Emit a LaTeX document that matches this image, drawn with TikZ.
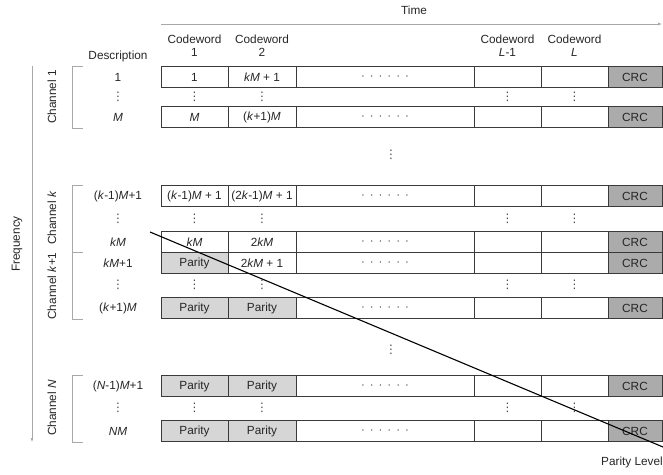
\documentclass[tikz,border=0pt]{standalone}
\usepackage{fontspec}
\setmainfont{Liberation Sans}
\newfontfamily\cwsym{DejaVu Sans}
\usetikzlibrary{arrows.meta,positioning}
\definecolor{cwLine}{HTML}{3A3A3A}
\definecolor{cwGrid}{HTML}{A8A8A8}
\definecolor{cwParity}{HTML}{D6D6D6}
\definecolor{cwCrc}{HTML}{ABABAB}
\newcommand{\cwfont}{\fontsize{11.8}{14}\selectfont}
\newcommand{\hdotsrow}{$\cdot$\hspace{5.5pt}$\cdot$\hspace{5.5pt}$\cdot$\hspace{5.5pt}$\cdot$\hspace{5.5pt}$\cdot$\hspace{5.5pt}$\cdot$}
\newcommand{\cwvdots}{{\cwsym ⋮}}
% one row of codeword cells: name, y, style 1, text 1, style 2, text 2
\newcommand{\coderow}[6]{%
  \node[cell,#3,minimum width=67pt] (#1a) at (194.5,#2) {#4};
  \node[cell,#5,minimum width=68pt,right=0pt of #1a] (#1b) {#6};
  \node[cell,minimum width=178pt,right=0pt of #1b] (#1c) {\hdotsrow};
  \node[cell,minimum width=67pt,right=0pt of #1c] (#1d) {};
  \node[cell,minimum width=67pt,right=0pt of #1d] (#1e) {};
  \node[cell,crc,minimum width=54pt,right=0pt of #1e] (#1f) {CRC};}
% vertical dots under the codeword columns
\newcommand{\dotsline}[2]{%
  \node[vd] (#1x) at (118,#2) {\cwvdots};
  \node[vd] (#1a) at (194.5,#2) {\cwvdots};
  \node[vd] (#1b) at (262,#2) {\cwvdots};
  \node[vd] (#1d) at (507.5,#2) {\cwvdots};
  \node[vd] (#1e) at (574.5,#2) {\cwvdots};}

\begin{document}
\begin{tikzpicture}[x=1pt,y=-1pt,font=\cwfont,
    cell/.style={draw=cwLine,line width=0.7pt,fill=white,minimum height=21pt,
                 inner sep=0pt,outer sep=0pt,text=black!85},
    par/.style={fill=cwParity},
    crc/.style={fill=cwCrc},
    plain/.style={},
    vd/.style={inner sep=0pt,text=black!70},
    desc/.style={inner sep=1pt,text=black!85},
    head/.style={align=center,inner sep=0pt,text=black!85,
                 font=\cwfont\linespread{0.95}\selectfont},
    chan/.style={rotate=90,inner sep=0pt,text=black!85},
    brk/.style={draw=cwGrid,line width=0.7pt},
    axis/.style={-{Latex[length=4pt,width=3pt]},draw=cwGrid,line width=0.6pt},
    diag/.style={draw=black,line width=1.1pt}]

  \useasboundingbox (0,0) rectangle (663,474);

  % time axis and headers
  \node[text=black!85] (time) at (414,10) {Time};
  \coordinate (t0) at (161,24);
  \coordinate (t1) at (662,24);
  \draw[axis] (t0) -- (t1);
  \node[head] (h1) at (194.5,46) {Codeword\\1};
  \node[head] (h2) at (262,46) {Codeword\\2};
  \node[head] (h3) at (507.5,46) {Codeword\\\textit{L}-1};
  \node[head] (h4) at (574.5,46) {Codeword\\\textit{L}};
  \node[head] (hd) at (118,56) {Description};

  % channel 1
  \coderow{ra}{77}{plain}{1}{plain}{\textit{kM} + 1}
  \dotsline{da}{97}
  \coderow{rb}{117}{plain}{\textit{M}}{plain}{(\textit{k}+1)\textit{M}}
  \node[desc] (la) at (118,77) {1};
  \node[desc] (lb) at (118,117) {\textit{M}};

  \node[vd] (gap1) at (391,155) {\cwvdots};

  % channel k and k+1
  \coderow{rc}{196}{plain}{(\textit{k}-1)\textit{M} + 1}{plain}{(2\textit{k}-1)\textit{M} + 1}
  \dotsline{dc}{219}
  \coderow{rd}{242}{plain}{\textit{kM}}{plain}{2\textit{kM}}
  \coderow{re}{263}{par}{Parity}{plain}{2\textit{kM} + 1}
  \dotsline{de}{285}
  \coderow{rf}{308}{par}{Parity}{par}{Parity}
  \node[desc] (lc) at (118,196) {(\textit{k}-1)\textit{M}+1};
  \node[desc] (ld) at (118,242) {\textit{kM}};
  \node[desc] (le) at (118,263) {\textit{kM}+1};
  \node[desc] (lf) at (118,308) {(\textit{k}+1)\textit{M}};

  \node[vd] (gap2) at (391,350) {\cwvdots};

  % channel N
  \coderow{rg}{386}{par}{Parity}{par}{Parity}
  \dotsline{dg}{408}
  \coderow{rh}{431}{par}{Parity}{par}{Parity}
  \node[desc] (lg) at (118,386) {(\textit{N}-1)\textit{M}+1};
  \node[desc] (lh) at (118,431) {\textit{NM}};

  % channel brackets
  \draw[brk] (83,66) -- (72,66) -- (72,128) -- (83,128);
  \draw[brk] (83,185) -- (72,185) -- (72,252.5) -- (83,252.5);
  \draw[brk] (72,252.5) -- (72,319) -- (83,319);
  \draw[brk] (83,375) -- (72,375) -- (72,442) -- (83,442);
  \node[chan] (c1) at (52,97) {Channel 1};
  \node[chan] (ck) at (52,218) {Channel \textit{k}};
  \node[chan] (ck1) at (52,286) {Channel \textit{k}+1};
  \node[chan] (cn) at (52,408) {Channel \textit{N}};

  % frequency axis
  \coordinate (f0) at (32,66);
  \coordinate (f1) at (32,442);
  \draw[axis] (f0) -- (f1);
  \node[chan] (freq) at (17,244) {Frequency};

  % parity level
  \coordinate (p0) at (150,232);
  \coordinate (p1) at (663,447);
  \draw[diag] (p0) -- (p1);
  \node[anchor=east,inner sep=0pt,text=black!85] (pl) at (663,462) {Parity Level};
\end{tikzpicture}
\end{document}
